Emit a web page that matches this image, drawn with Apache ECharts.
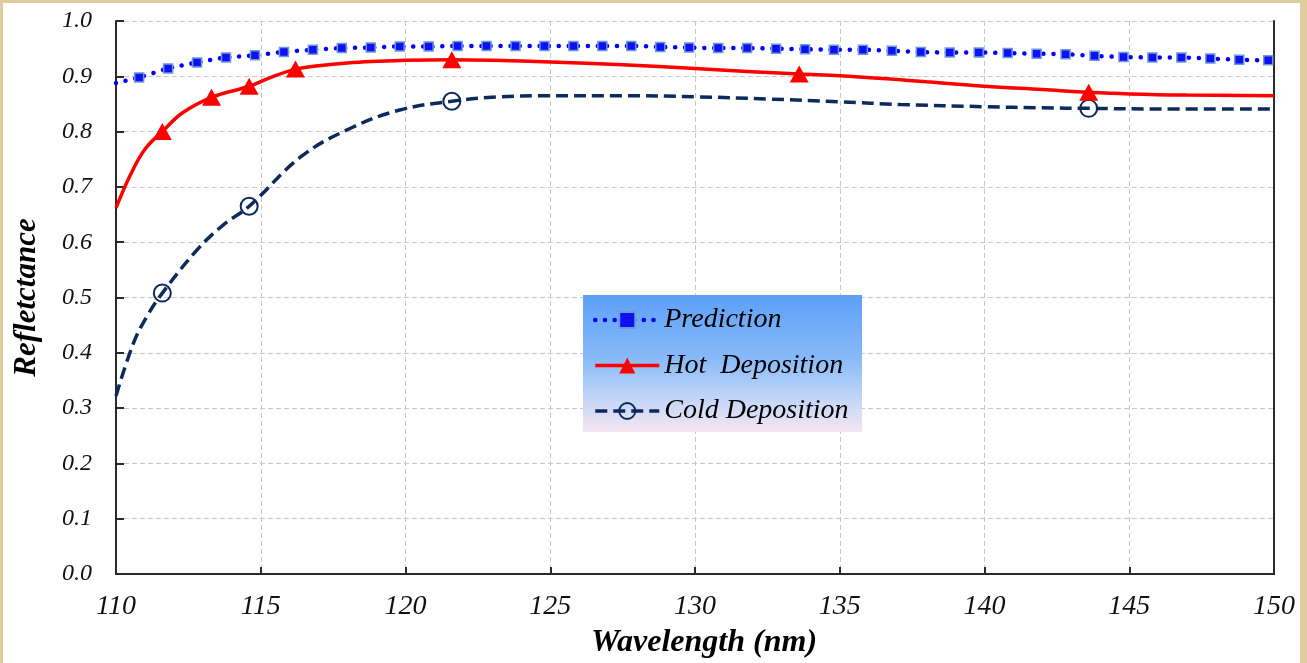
<!DOCTYPE html>
<html>
<head>
<meta charset="utf-8">
<script src="https://cdn.jsdelivr.net/npm/echarts@6/dist/echarts.min.js"></script>
<style>
  html, body { margin: 0; padding: 0; background: #DFCC9F; width: 1307px; height: 663px; overflow: hidden; }
  #chart { position: absolute; left: 3px; top: 3px; width: 1297px; height: 660px; background: #ffffff; }
</style>
</head>
<body>
<div id="chart"></div>
<script>
// ---- Data ----
const seriesNames = ['Prediction', 'Hot  Deposition', 'Cold Deposition'];

const xTicks = [110, 115, 120, 125, 130, 135, 140, 145, 150];
const yTicks = [0.0, 0.1, 0.2, 0.3, 0.4, 0.5, 0.6, 0.7, 0.8, 0.9, 1.0];

// Prediction (dotted line with square markers)
const predX = [110, 110.8, 111.8, 112.8, 113.8, 114.8, 115.8, 116.8, 117.8, 118.8, 119.8, 120.8, 121.8, 122.8, 123.8, 124.8, 125.8, 126.8, 127.8, 128.8, 129.8, 130.8, 131.8, 132.8, 133.8, 134.8, 135.8, 136.8, 137.8, 138.8, 139.8, 140.8, 141.8, 142.8, 143.8, 144.8, 145.8, 146.8, 147.8, 148.8, 149.8, 150];
const predY = [0.888, 0.898, 0.914, 0.925, 0.934, 0.938, 0.944, 0.948, 0.951, 0.952, 0.954, 0.954, 0.955, 0.955, 0.955, 0.955, 0.955, 0.955, 0.955, 0.953, 0.952, 0.951, 0.951, 0.950, 0.949, 0.948, 0.948, 0.946, 0.944, 0.943, 0.943, 0.942, 0.941, 0.940, 0.937, 0.935, 0.934, 0.934, 0.932, 0.930, 0.929, 0.929];
const predMarked = predX.map((x, i) => i > 0 && i < predX.length - 1);

// Hot deposition: fitted curve points and measured (marked) points
const hotX = [110, 110.5, 111, 111.6, 112.3, 113.3, 114.6, 115.3, 116.2, 117, 118, 119, 120, 121.6, 123, 125, 127.5, 130, 133.6, 135, 137, 138, 140, 142, 143.6, 145, 147, 150];
const hotY = [0.662, 0.722, 0.768, 0.800, 0.834, 0.862, 0.882, 0.897, 0.913, 0.919, 0.924, 0.927, 0.929, 0.930, 0.929, 0.926, 0.921, 0.914, 0.904, 0.901, 0.894, 0.890, 0.882, 0.876, 0.871, 0.868, 0.866, 0.865];
const hotMarked = [false, false, false, true, false, true, true, false, true, false, false, false, false, true, false, false, false, false, true, false, false, false, false, false, true, false, false, false];

// Cold deposition: fitted curve points and measured (marked) points
const coldX = [110, 110.6, 111.06, 111.6, 112.8, 113.7, 114.6, 116.4, 118.1, 119.8, 121.6, 123.3, 125, 127.5, 130, 132.5, 135, 137.1, 140, 142, 143.6, 146, 150];
const coldY = [0.322, 0.417, 0.465, 0.508, 0.586, 0.631, 0.665, 0.755, 0.806, 0.839, 0.855, 0.863, 0.865, 0.865, 0.863, 0.859, 0.854, 0.849, 0.845, 0.843, 0.842, 0.841, 0.841];
const coldMarked = [false, false, false, true, false, false, true, false, false, false, true, false, false, false, false, false, false, false, false, false, true, false, false];

// ---- Build ----
function build(xs, ys, marks) {
  return xs.map((x, i) => marks[i] ? { value: [x, ys[i]] } : { value: [x, ys[i]], symbol: 'none' });
}

const serifFont = '"Liberation Serif", "Times New Roman", serif';
const chart = echarts.init(document.getElementById('chart'), null, { renderer: 'canvas' });

const frameAxisLine = { show: true, lineStyle: { color: '#2a2a2a', width: 2 } };

const option = {
  animation: false,
  backgroundColor: '#ffffff',
  grid: { left: 113, top: 18, right: 26, bottom: 89, containLabel: false, outerBoundsMode: 'none' },
  xAxis: [{
    type: 'value', min: xTicks[0], max: xTicks[xTicks.length - 1], interval: 5,
    name: 'Wavelength (nm)', nameLocation: 'middle', nameGap: 53,
    nameTextStyle: { fontFamily: serifFont, fontStyle: 'italic', fontWeight: 'bold', fontSize: 32, color: '#000', padding: [0, 0, 0, 18] },
    axisLine: frameAxisLine,
    axisTick: { show: true, inside: true, length: 7, lineStyle: { color: '#2a2a2a', width: 2 } },
    axisLabel: { margin: 19, fontFamily: serifFont, fontStyle: 'italic', fontSize: 28, color: '#111' },
    splitLine: { show: true, lineStyle: { color: '#c8c8c8', width: 1, type: [5, 3] } }
  }, {
    type: 'value', position: 'top', min: xTicks[0], max: xTicks[xTicks.length - 1], interval: 5,
    axisLine: frameAxisLine, axisTick: { show: false }, axisLabel: { show: false }, splitLine: { show: false }
  }],
  yAxis: [{
    type: 'value', min: yTicks[0], max: yTicks[yTicks.length - 1], interval: 0.1,
    name: 'Refletctance', nameLocation: 'middle', nameGap: 74, nameRotate: 90,
    nameTextStyle: { fontFamily: serifFont, fontStyle: 'italic', fontWeight: 'bold', fontSize: 31, color: '#000' },
    axisLine: frameAxisLine,
    axisTick: { show: true, inside: true, length: 8, lineStyle: { color: '#2a2a2a', width: 2 } },
    axisLabel: { margin: 24, fontFamily: serifFont, fontStyle: 'italic', fontSize: 24, color: '#111', formatter: v => v.toFixed(1) },
    splitLine: { show: true, lineStyle: { color: '#c8c8c8', width: 1, type: [5, 3] } }
  }, {
    type: 'value', position: 'right', min: yTicks[0], max: yTicks[yTicks.length - 1], interval: 0.1,
    axisLine: frameAxisLine, axisTick: { show: false }, axisLabel: { show: false }, splitLine: { show: false }
  }],
  graphic: [{
    type: 'rect', left: 580, top: 292, z: 3,
    shape: { width: 279, height: 137 },
    style: {
      fill: new echarts.graphic.LinearGradient(0, 0, 0, 1, [
        { offset: 0, color: '#5D9FF7' },
        { offset: 0.45, color: '#86B9F8' },
        { offset: 0.8, color: '#CBD9F6' },
        { offset: 1, color: '#F6E6F2' }
      ])
    }
  }],
  legend: {
    orient: 'vertical', left: 590, top: 301, z: 5, padding: 0,
    itemWidth: 64, itemHeight: 20, itemGap: 13.5,
    data: seriesNames,
    lineStyle: { width: 'inherit' },
    textStyle: { fontFamily: serifFont, fontStyle: 'italic', fontSize: 28, color: '#000', lineHeight: 32 }
  },
  series: [
    {
      name: seriesNames[2], type: 'line', smooth: 0.4, z: 2,
      data: build(coldX, coldY, coldMarked),
      symbol: 'circle', symbolSize: 17,
      color: '#0D2A5C',
      lineStyle: { color: '#0D2A5C', width: 3.5, type: [12, 6] },
      itemStyle: { color: 'rgba(255,255,255,0)', borderColor: '#0D2A5C', borderWidth: 2 }
    },
    {
      name: seriesNames[1], type: 'line', smooth: 0.4, z: 3,
      data: build(hotX, hotY, hotMarked),
      symbol: 'triangle', symbolSize: [19, 17],
      color: '#FF0000',
      lineStyle: { color: '#FF0000', width: 3.5, type: 'solid' },
      itemStyle: { color: '#FF0000' }
    },
    {
      name: seriesNames[0], type: 'line', smooth: 0.3, z: 4,
      data: build(predX, predY, predMarked),
      symbol: 'rect', symbolSize: 9,
      color: '#0000FF',
      lineStyle: { color: '#0000FF', width: 4.5, type: [0.1, 9.6], cap: 'round' },
      itemStyle: { color: '#1010F0', borderColor: '#6C9BDC', borderWidth: 1.5 }
    }
  ]
};
chart.setOption(option);
</script>
</body>
</html>
